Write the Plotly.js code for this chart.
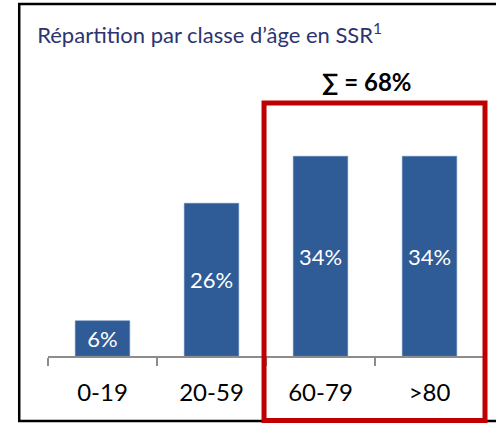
<!DOCTYPE html>
<html>
<head>
<meta charset="utf-8">
<script src="https://cdn.plot.ly/plotly-3.0.1.min.js"></script>
<style>
  html, body { margin: 0; padding: 0; background: #fff; }
  #plot { width: 496px; height: 423px; }
</style>
</head>
<body>
<div id="plot"></div>
<script>
// Age classes and share of SSR stays (%)
let ageClasses = ['0-19', '20-59', '60-79', '>80'];
let shares = [6, 26, 34, 34];
let shareLabels = ['6%', '26%', '34%', '34%'];

// Bars
let trace1 = {
    x: ageClasses,
    y: shares,
    text: shareLabels,
    type: 'bar',
    width: 0.5,
    marker: { color: '#2f5b97', line: { color: '#5b7fb5', width: 0.5 } },
    textposition: 'inside',
    insidetextanchor: 'middle',
    constraintext: 'none',
    textfont: { color: '#ffffff', size: 22, family: 'Lato, "Open Sans", sans-serif' },
    hoverinfo: 'none'
};

let data = [trace1];

// Layout
let layout = {
    width: 496,
    height: 423,
    margin: { l: 48, r: 12, t: 121, b: 67 },
    paper_bgcolor: '#ffffff',
    plot_bgcolor: '#ffffff',
    showlegend: false,
    bargap: 0.5,
    title: {
        text: 'Répartition par classe d’âge en SSR<sup>1</sup>',
        font: { family: 'Lato, "Open Sans", sans-serif', size: 22, color: '#2b3470' },
        x: 0.075, xanchor: 'left', xref: 'container',
        y: 0.917, yanchor: 'middle'
    },
    xaxis: {
        type: 'category',
        showline: true,
        linecolor: '#8c8c8c',
        linewidth: 2,
        ticks: 'outside',
        tickson: 'boundaries',
        ticklen: 8,
        tickwidth: 2,
        tickcolor: '#8c8c8c',
        ticklabelstandoff: 14,
        tickfont: { family: 'Lato, "Open Sans", sans-serif', size: 24, color: '#000000' },
        showgrid: false,
        zeroline: false
    },
    yaxis: {
        range: [0, 40],
        visible: false,
        showgrid: false,
        zeroline: false
    },
    shapes: [
        // outer black frame
        { type: 'rect', xref: 'paper', yref: 'paper',
          x0: -0.066, x1: 1.06, y0: -0.2765, y1: 1.498,
          line: { color: '#000000', width: 2.5 } },
        // red box round the two oldest classes
        { type: 'rect', xref: 'paper', yref: 'paper',
          x0: 0.4955, x1: 1.0023, y0: -0.2745, y1: 1.077,
          line: { color: '#c00000', width: 5 } }
    ],
    annotations: [
        { text: '<b>∑ = 68%</b>', xref: 'paper', yref: 'paper',
          x: 0.732, y: 1.166, xanchor: 'center', yanchor: 'middle',
          showarrow: false,
          font: { family: 'Lato, "Open Sans", sans-serif', size: 24, color: '#000000' } }
    ]
};

Plotly.newPlot('plot', data, layout, { displayModeBar: false, staticPlot: true });
</script>
</body>
</html>
